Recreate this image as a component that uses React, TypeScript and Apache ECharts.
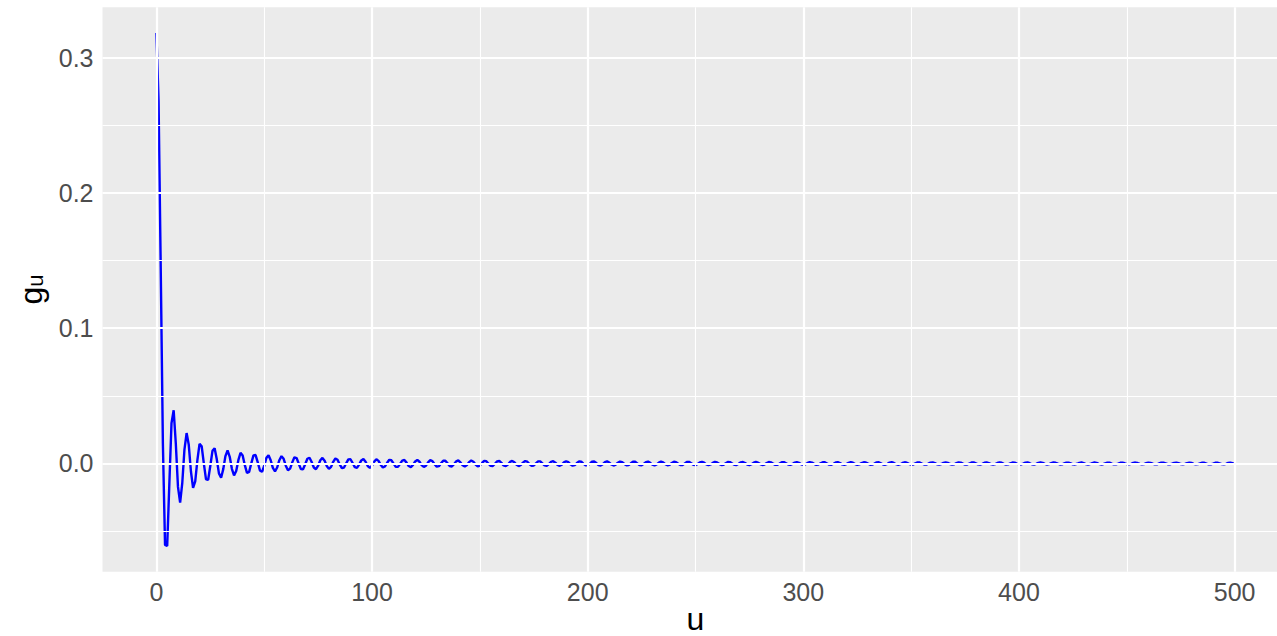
import React, { useEffect, useRef } from "react";
import * as echarts from "echarts";

// g_u at u = 0, 1, 2, ... (one value per integer u)
const gU000to043 = [
  0.31831, 0.26785, 0.14472, 0.01497, -0.06022, -0.06104, -0.01482, 0.02988, 0.03937, 0.01457, -0.01732,
  -0.02894, -0.01424, 0.01029, 0.02252, 0.0138, -0.00573, -0.018, -0.01328, 0.00251, 0.01453, 0.01268,
  -0.00013, -0.01171, -0.01201, -0.00168, 0.00934, 0.01128, 0.00308, -0.00728, -0.01048, -0.00415, 0.00548,
  0.00965, 0.00495, -0.00389, -0.00877, -0.00554, 0.00248, 0.00787, 0.00593, -0.00123, -0.00695, -0.00616,
];
const gU044to109 = [
  0.00013, 0.00602, 0.00624, 0.00084, -0.0051, -0.0062, -0.00167, 0.00418, 0.00604, 0.00238, -0.00329,
  -0.00579, -0.00297, 0.00244, 0.00545, 0.00344, -0.00162, -0.00504, -0.0038, 0.00085, 0.00458, 0.00405,
  -0.00013, -0.00407, -0.0042, -0.00053, 0.00352, 0.00427, 0.00112, -0.00295, -0.00424, -0.00165, 0.00237,
  0.00413, 0.0021, -0.00179, -0.00396, -0.00248, 0.00122, 0.00372, 0.00278, -0.00066, -0.00342, -0.00301,
  0.00013, 0.00308, 0.00316, 0.00037, -0.0027, -0.00325, -0.00083, 0.00229, 0.00326, 0.00125, -0.00186,
  -0.00321, -0.00161, 0.00143, 0.00311, 0.00193, -0.00098, -0.00294, -0.00218, 0.00055, 0.00273, 0.00239,
];
const gU110to197 = [
  -0.00013, -0.00248, -0.00253, -0.00027, 0.00219, 0.00262, 0.00065, -0.00188, -0.00265, -0.00099, 0.00154,
  0.00263, 0.0013, -0.00119, -0.00256, -0.00157, 0.00083, 0.00244, 0.00179, -0.00048, -0.00228, -0.00197,
  0.00013, 0.00208, 0.0021, 0.00021, -0.00185, -0.00219, -0.00053, 0.00159, 0.00223, 0.00082, -0.00132,
  -0.00222, -0.00109, 0.00103, 0.00217, 0.00132, -0.00073, -0.00208, -0.00152, 0.00043, 0.00195, 0.00168,
  -0.00013, -0.00179, -0.0018, -0.00016, 0.0016, 0.00188, 0.00044, -0.00139, -0.00192, -0.00069, 0.00115,
  0.00192, 0.00093, -0.00091, -0.00189, -0.00113, 0.00065, 0.00182, 0.00131, -0.00039, -0.00171, -0.00146,
  0.00013, 0.00158, 0.00157, 0.00013, -0.00142, -0.00165, -0.00037, 0.00123, 0.00169, 0.0006, -0.00103,
  -0.0017, -0.00081, 0.00081, 0.00167, 0.00099, -0.00059, -0.00161, -0.00115, 0.00036, 0.00153, 0.00129,
];
const gU198to285 = [
  -0.00013, -0.00141, -0.00139, -0.0001, 0.00127, 0.00146, 0.00032, -0.00111, -0.00151, -0.00052, 0.00093,
  0.00152, 0.00071, -0.00074, -0.0015, -0.00088, 0.00054, 0.00145, 0.00103, -0.00033, -0.00138, -0.00115,
  0.00013, 0.00128, 0.00125, 0.00008, -0.00115, -0.00132, -0.00027, 0.00101, 0.00136, 0.00046, -0.00085,
  -0.00137, -0.00063, 0.00068, 0.00136, 0.00079, -0.0005, -0.00132, -0.00092, 0.00032, 0.00125, 0.00104,
  -0.00013, -0.00117, -0.00113, -0.00006, 0.00106, 0.00119, 0.00024, -0.00093, -0.00124, -0.00041, 0.00079,
  0.00125, 0.00057, -0.00063, -0.00124, -0.00071, 0.00047, 0.00121, 0.00084, -0.0003, -0.00115, -0.00094,
  0.00013, 0.00107, 0.00103, 0.00004, -0.00098, -0.00109, -0.00021, 0.00086, 0.00113, 0.00036, -0.00073,
  -0.00115, -0.00051, 0.00059, 0.00114, 0.00065, -0.00044, -0.00112, -0.00076, 0.00029, 0.00107, 0.00086,
];
const gU286to395 = [
  -0.00013, -0.001, -0.00095, -0.00003, 0.00091, 0.00101, 0.00018, -0.0008, -0.00105, -0.00033, 0.00068,
  0.00106, 0.00047, -0.00056, -0.00106, -0.00059, 0.00042, 0.00104, 0.0007, -0.00027, -0.00099, -0.0008,
  0.00013, 0.00093, 0.00087, 0.00002, -0.00085, -0.00093, -0.00016, 0.00075, 0.00097, 0.0003, -0.00064,
  -0.00099, -0.00043, 0.00052, 0.00099, 0.00054, -0.0004, -0.00097, -0.00065, 0.00026, 0.00093, 0.00074,
  -0.00013, -0.00087, -0.00081, -0.00001, 0.0008, 0.00087, 0.00014, -0.00071, -0.00091, -0.00027, 0.00061,
  0.00092, 0.00039, -0.0005, -0.00093, -0.0005, 0.00038, 0.00091, 0.0006, -0.00026, -0.00087, -0.00069,
  0.00013, 0.00082, 0.00076, 0.0, -0.00075, -0.00081, -0.00013, 0.00067, 0.00085, 0.00025, -0.00058,
  -0.00087, -0.00036, 0.00047, 0.00087, 0.00047, -0.00036, -0.00085, -0.00056, 0.00025, 0.00082, 0.00064,
  -0.00013, -0.00078, -0.00071, 0.00001, 0.00071, 0.00076, 0.00011, -0.00064, -0.0008, -0.00022, 0.00055,
  0.00082, 0.00033, -0.00045, -0.00082, -0.00043, 0.00035, 0.00081, 0.00052, -0.00024, -0.00078, -0.0006,
];
const gU396to500 = [
  0.00013, 0.00074, 0.00067, -0.00001, -0.00068, -0.00072, -0.0001, 0.00061, 0.00075, 0.00021, -0.00053,
  -0.00077, -0.00031, 0.00044, 0.00078, 0.0004, -0.00034, -0.00077, -0.00049, 0.00023, 0.00074, 0.00056,
  -0.00013, -0.0007, -0.00063, 0.00002, 0.00065, 0.00068, 0.00009, -0.00058, -0.00071, -0.00019, 0.0005,
  0.00073, 0.00029, -0.00042, -0.00074, -0.00038, 0.00033, 0.00073, 0.00046, -0.00023, -0.0007, -0.00053,
  0.00013, 0.00067, 0.00059, -0.00003, -0.00062, -0.00064, -0.00007, 0.00056, 0.00067, 0.00017, -0.00048,
  -0.00069, -0.00027, 0.0004, 0.0007, 0.00035, -0.00032, -0.00069, -0.00043, 0.00022, 0.00067, 0.0005,
  -0.00013, -0.00064, -0.00056, 0.00003, 0.00059, 0.00061, 0.00007, -0.00053, -0.00064, -0.00016, 0.00047,
  0.00066, 0.00025, -0.00039, -0.00067, -0.00033, 0.00031, 0.00066, 0.00041, -0.00022, -0.00064, -0.00047,
  0.00013, 0.00061, 0.00053, -0.00004, -0.00057, -0.00058, -0.00006, 0.00051, 0.00061, 0.00015, -0.00045,
  -0.00063, -0.00023, 0.00038, 0.00064, 0.00031, -0.0003,
];

const gValues = [...gU000to043, ...gU044to109, ...gU110to197, ...gU198to285, ...gU286to395, ...gU396to500];

const xTickValues = [0, 100, 200, 300, 400, 500];
const xMinorValues = [50, 150, 250, 350, 450];
const yTickValues = [0, 0.1, 0.2, 0.3];
const yMinorValues = [-0.05, 0.05, 0.15, 0.25];
const xTitle = "u";
const yTitleMain = "g";
const yTitleSub = "u";

export default function App() {
  const ref = useRef<HTMLDivElement>(null);

  useEffect(() => {
    if (!ref.current) return;
    const chart = echarts.init(ref.current, null, { renderer: "svg" });
    const font = "'Liberation Sans', Arial, Helvetica, sans-serif";
    const data = gValues.map((v, i) => [i, v]);

    const gridLineSeries = (xs: number[], ys: number[], width: number) => ({
      type: "line",
      data: [],
      z: 1,
      silent: true,
      markLine: {
        silent: true,
        symbol: ["none", "none"],
        label: { show: false },
        emphasis: { disabled: true },
        lineStyle: { color: "#FFFFFF", width, type: "solid" },
        data: [...xs.map((x) => ({ xAxis: x })), ...ys.map((y) => ({ yAxis: y }))],
      },
    });

    chart.setOption({
      animation: false,
      grid: {
        left: 102.5,
        top: 7.3,
        width: 1186,
        height: 564.4,
        show: true,
        backgroundColor: "#EBEBEB",
        borderWidth: 0,
        containLabel: false,
        outerBoundsMode: "none",
      },
      xAxis: {
        type: "value",
        min: -25,
        max: 525,
        axisLine: { show: false },
        splitLine: { show: false },
        axisTick: {
          show: true,
          customValues: xTickValues,
          length: 5,
          lineStyle: { color: "#333333", width: 2 },
        },
        axisLabel: {
          customValues: xTickValues,
          color: "#4D4D4D",
          fontSize: 25,
          fontFamily: font,
          margin: 8,
        },
        name: xTitle,
        nameLocation: "middle",
        nameGap: 31,
        nameMoveOverlap: false,
        nameTextStyle: { color: "#000000", fontSize: 32, lineHeight: 32, fontFamily: font },
      },
      yAxis: {
        type: "value",
        min: -0.08,
        max: 0.3373,
        axisLine: { show: false },
        splitLine: { show: false },
        axisTick: {
          show: true,
          customValues: yTickValues,
          length: 5,
          lineStyle: { color: "#333333", width: 2 },
        },
        axisLabel: {
          customValues: yTickValues,
          color: "#4D4D4D",
          fontSize: 25,
          fontFamily: font,
          margin: 9,
          formatter: (v: number) => v.toFixed(1),
        },
        name: `{g|${yTitleMain}}{s|${yTitleSub}}`,
        nameLocation: "middle",
        nameGap: 56,
        nameMoveOverlap: false,
        nameTextStyle: {
          rich: {
            g: { fontSize: 32, lineHeight: 32, fontFamily: font, color: "#000000", verticalAlign: "top" },
            s: {
              fontSize: 22,
              lineHeight: 22,
              fontFamily: font,
              color: "#000000",
              verticalAlign: "bottom",
              padding: [20, 0, 0, 0],
            },
          },
        },
      },
      series: [
        gridLineSeries(xMinorValues, yMinorValues, 1.1),
        gridLineSeries(xTickValues, yTickValues, 2.2),
        {
          type: "line",
          data,
          z: 3,
          showSymbol: false,
          symbol: "none",
          silent: true,
          lineStyle: { color: "#0000FF", width: 2.4 },
        },
      ],
    });

    return () => chart.dispose();
  }, []);

  return (
    <div
      style={{
        position: "fixed",
        left: 0,
        top: 0,
        width: 1277,
        height: 636,
        overflow: "hidden",
        background: "#FFFFFF",
      }}
    >
      <div ref={ref} style={{ width: 1300, height: 636 }} />
    </div>
  );
}
